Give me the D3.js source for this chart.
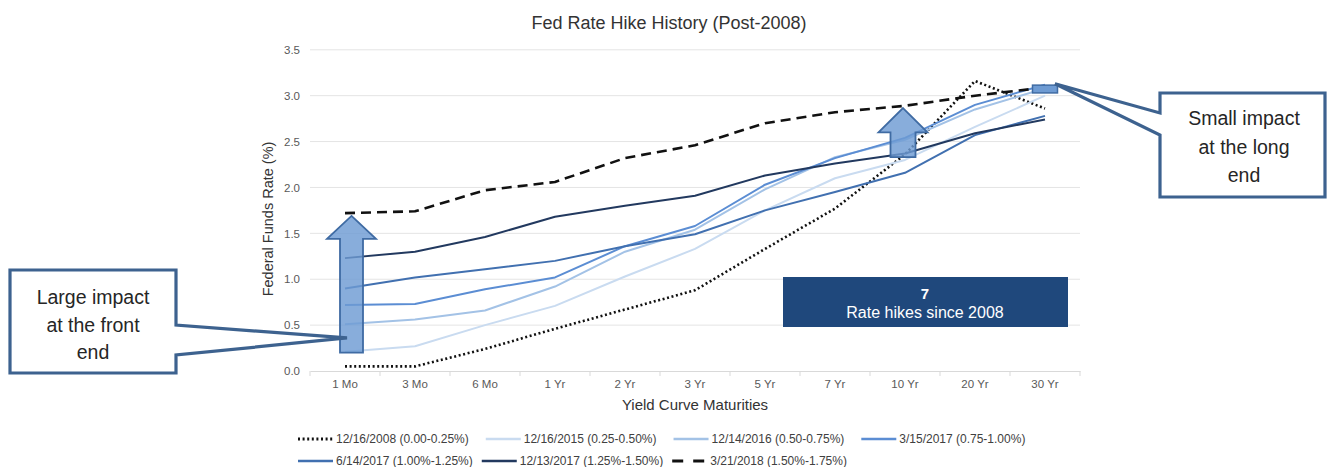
<!DOCTYPE html>
<html>
<head>
<meta charset="utf-8">
<script src="https://cdn.jsdelivr.net/npm/d3@7"></script>
<style>
  html, body { margin: 0; padding: 0; background: #ffffff; }
  svg { display: block; font-family: "Liberation Sans", Arial, sans-serif; }
</style>
</head>
<body>
<svg id="chart" width="1330" height="467"></svg>
<script>
// ---- Data ----
const categories = ["1 Mo","3 Mo","6 Mo","1 Yr","2 Yr","3 Yr","5 Yr","7 Yr","10 Yr","20 Yr","30 Yr"];
const yTicks = [0, 0.5, 1.0, 1.5, 2.0, 2.5, 3.0, 3.5];
const seriesNames = [
  "12/16/2008 (0.00-0.25%)",
  "12/16/2015 (0.25-0.50%)",
  "12/14/2016 (0.50-0.75%)",
  "3/15/2017 (0.75-1.00%)",
  "6/14/2017 (1.00%-1.25%)",
  "12/13/2017 (1.25%-1.50%)",
  "3/21/2018 (1.50%-1.75%)"
];
const s20081216 = [0.05, 0.05, 0.24, 0.46, 0.67, 0.88, 1.33, 1.77, 2.36, 3.16, 2.86];
const s20151216 = [0.21, 0.27, 0.50, 0.71, 1.03, 1.33, 1.75, 2.10, 2.30, 2.66, 3.00];
const s20161214 = [0.51, 0.56, 0.66, 0.92, 1.30, 1.54, 1.98, 2.33, 2.52, 2.85, 3.08];
const s20170315 = [0.72, 0.73, 0.89, 1.02, 1.36, 1.58, 2.03, 2.32, 2.54, 2.90, 3.12];
const s20170614 = [0.90, 1.02, 1.11, 1.20, 1.36, 1.49, 1.75, 1.95, 2.16, 2.57, 2.78];
const s20171213 = [1.23, 1.30, 1.46, 1.68, 1.80, 1.91, 2.13, 2.26, 2.37, 2.59, 2.74];
const s20180321 = [1.72, 1.74, 1.97, 2.06, 2.32, 2.46, 2.70, 2.82, 2.89, 3.00, 3.09];
const hikeCount = "7";
const hikeText = "Rate hikes since 2008";

// ---- Styles ----
const seriesValues = [s20081216, s20151216, s20161214, s20170315, s20170614, s20171213, s20180321];
const seriesColors = ["#111111", "#c9dbf0", "#a3c2e6", "#5b8dd3", "#4170b0", "#22395f", "#111111"];
const seriesDash = ["2,2.6", null, null, null, null, null, "10,6"];
const seriesWidth = [2.6, 2, 2, 2, 2, 2, 2.6];
const fontFam = "'Liberation Sans', Arial, sans-serif";

const svg = d3.select("#chart");

const x = d3.scaleBand().domain(categories).range([310, 1080]).paddingInner(0).paddingOuter(0);
const y = d3.scaleLinear().domain([0, 3.5]).range([371, 49.8]);
const xc = c => x(c) + x.bandwidth() / 2;

// Title
svg.append("text").attr("x", 669).attr("y", 29).attr("text-anchor", "middle")
  .attr("font-size", 18).attr("fill", "#333333").text("Fed Rate Hike History (Post-2008)");

// Gridlines
svg.append("g").selectAll("line").data(yTicks.filter(d => d > 0)).join("line")
  .attr("x1", 310).attr("x2", 1080)
  .attr("y1", d => y(d)).attr("y2", d => y(d))
  .attr("stroke", "#e4e4e4").attr("stroke-width", 1);

// Y axis
const yAxis = svg.append("g").attr("transform", "translate(310,0)")
  .call(d3.axisLeft(y).tickValues(yTicks).tickFormat(d3.format(".1f")).tickSize(0).tickPadding(10));
yAxis.select(".domain").remove();
yAxis.selectAll("text").attr("font-size", 11.5).attr("fill", "#595959").attr("font-family", fontFam);

// X axis
const xAxis = svg.append("g").attr("transform", "translate(0,371)")
  .call(d3.axisBottom(x).tickSizeInner(0).tickSizeOuter(0).tickPadding(9));
xAxis.select(".domain").attr("stroke", "#d9d9d9");
xAxis.selectAll("text").attr("font-size", 11.5).attr("fill", "#595959").attr("font-family", fontFam);
// boundary tick marks
const bounds = categories.map(c => x(c)).concat([x(categories[categories.length - 1]) + x.bandwidth()]);
svg.append("g").selectAll("line").data(bounds).join("line")
  .attr("x1", d => d).attr("x2", d => d)
  .attr("y1", 371).attr("y2", 376).attr("stroke", "#d9d9d9");

// Axis titles
svg.append("text").attr("x", 695).attr("y", 410).attr("text-anchor", "middle")
  .attr("font-size", 15).attr("fill", "#333333").text("Yield Curve Maturities");
svg.append("text").attr("transform", "translate(273,219) rotate(-90)").attr("text-anchor", "middle")
  .attr("font-size", 14.5).attr("fill", "#333333").text("Federal Funds Rate (%)");

// Lines
const line = d3.line().x((d, i) => xc(categories[i])).y(d => y(d));
const gLines = svg.append("g");
seriesValues.forEach((vals, k) => {
  gLines.append("path").datum(vals).attr("d", line)
    .attr("fill", "none").attr("stroke", seriesColors[k])
    .attr("stroke-width", seriesWidth[k])
    .attr("stroke-dasharray", seriesDash[k])
    .attr("stroke-linejoin", "round");
});

// Block arrows (annotations)
function blockArrow(cx, yTip, yHeadBase, yBottom, headHalf, bodyHalf) {
  return `M${cx},${yTip} L${cx + headHalf},${yHeadBase} L${cx + bodyHalf},${yHeadBase} L${cx + bodyHalf},${yBottom} L${cx - bodyHalf},${yBottom} L${cx - bodyHalf},${yHeadBase} L${cx - headHalf},${yHeadBase} Z`;
}
const arrowFill = "#6e9bd3", arrowStroke = "#3f6ba3";
svg.append("path").attr("d", blockArrow(xc("1 Mo") + 6.5, y(1.69), y(1.44), y(0.20), 24.5, 11.5))
  .attr("fill", arrowFill).attr("fill-opacity", 0.82).attr("stroke", arrowStroke).attr("stroke-width", 1.8);
svg.append("path").attr("d", blockArrow(xc("10 Yr") - 2, y(2.865), y(2.60), y(2.33), 24.5, 12.5))
  .attr("fill", arrowFill).attr("fill-opacity", 0.82).attr("stroke", arrowStroke).attr("stroke-width", 1.8);
svg.append("rect").attr("x", xc("30 Yr") - 12.5).attr("y", y(3.115)).attr("width", 25).attr("height", y(3.03) - y(3.115))
  .attr("fill", arrowFill).attr("stroke", arrowStroke).attr("stroke-width", 1.5);

// Callouts
const calloutStroke = "#3d628f";
const tipL = [xc("1 Mo") + 2, y(0.36)];
svg.append("path")
  .attr("d", `M10,270 H176 V325 L${tipL[0]},${tipL[1]} L176,355 V373 H10 Z`)
  .attr("fill", "#ffffff").attr("stroke", calloutStroke).attr("stroke-width", 3.2).attr("stroke-linejoin", "miter");
["Large impact", "at the front", "end"].forEach((t, i) => {
  svg.append("text").attr("x", 93).attr("y", 304 + i * 27.5).attr("text-anchor", "middle")
    .attr("font-size", 19.5).attr("fill", "#262626").text(t);
});
const tipR = [xc("30 Yr") + 10, y(3.13)];
svg.append("path")
  .attr("d", `M1160,93 H1325 V197 H1160 V135 L${tipR[0]},${tipR[1]} L1160,113 Z`)
  .attr("fill", "#ffffff").attr("stroke", calloutStroke).attr("stroke-width", 3.2).attr("stroke-linejoin", "miter");
["Small impact", "at the long", "end"].forEach((t, i) => {
  svg.append("text").attr("x", 1244).attr("y", 125 + i * 28.5).attr("text-anchor", "middle")
    .attr("font-size", 19.5).attr("fill", "#262626").text(t);
});

// Rate hikes box
svg.append("rect").attr("x", 783).attr("y", 277).attr("width", 285).attr("height", 50)
  .attr("fill", "#1f487c");
svg.append("text").attr("x", 925).attr("y", 299).attr("text-anchor", "middle")
  .attr("font-size", 15).attr("font-weight", "bold").attr("fill", "#ffffff").text(hikeCount);
svg.append("text").attr("x", 925).attr("y", 318).attr("text-anchor", "middle")
  .attr("font-size", 16).attr("fill", "#ffffff").text(hikeText);

// Legend (flow layout, two rows)
const legendRows = [[0, 1, 2, 3], [4, 5, 6]];
const legendY = [439, 461];
const legendGap = [17, 9];
legendRows.forEach((row, r) => {
  let cx = 298;
  row.forEach(k => {
    const g = svg.append("g");
    g.append("line").attr("x1", cx).attr("x2", cx + 35).attr("y1", legendY[r]).attr("y2", legendY[r])
      .attr("stroke", seriesColors[k]).attr("stroke-width", seriesWidth[k] + 0.4)
      .attr("stroke-dasharray", k === 6 ? "11,10" : seriesDash[k]);
    const t = g.append("text").attr("x", cx + 38).attr("y", legendY[r] + 4)
      .attr("font-size", 12).attr("fill", "#404040").text(seriesNames[k]);
    cx += 38 + t.node().getComputedTextLength() + legendGap[r];
  });
});
</script>
</body>
</html>
